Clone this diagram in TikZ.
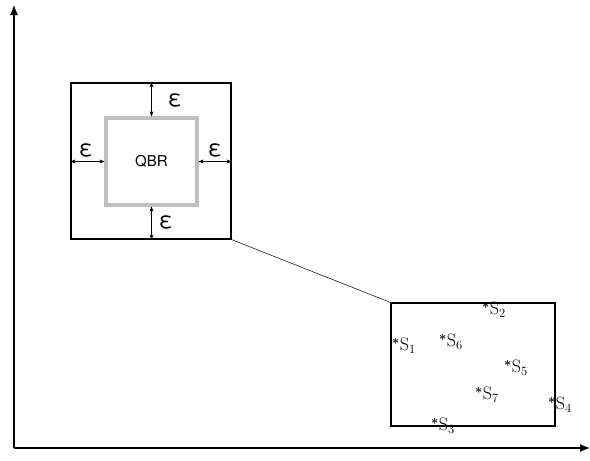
\documentclass[tikz,border=0pt]{standalone}
\usepackage{fontspec}
\usepackage{amsmath}
\usepackage{fix-cm}
\setsansfont{TeX Gyre Heros}
\usetikzlibrary{arrows.meta,positioning}

\begin{document}
\begin{tikzpicture}[x=1pt, y=-1pt,
  box/.style={draw, line width=1.2pt, inner sep=0pt},
  qbrbox/.style={draw=gray!50, line width=3.2pt, inner sep=0pt,
               font=\sffamily\fontsize{15}{15}\selectfont},
  epsarr/.style={{Stealth[length=5pt,width=4pt]}-{Stealth[length=5pt,width=4pt]}, line width=0.6pt},
  epslbl/.style={font=\sffamily\fontsize{23}{23}\selectfont, inner sep=0pt},
  axis/.style={-{Latex[length=10pt,width=8pt]}, line width=1.2pt},
  site/.style={font=\fontsize{18}{18}\selectfont, inner sep=0pt, anchor=west},
]
  \useasboundingbox (0,0) rectangle (590,461);

  % axes
  \coordinate (origin) at (14,448);
  \coordinate (ytip) at (14,5);
  \coordinate (xtip) at (590,448);
  \draw[axis] (origin) -- (ytip);
  \draw[axis] (origin) -- (xtip);

  % region around the QBR
  \node[box, minimum width=160pt, minimum height=156pt] (outer) at (151,161) {};
  \node[qbrbox, minimum width=91pt, minimum height=87pt] (qbr) at (151.5,161.5) {QBR};

  % epsilon margins
  \draw[epsarr] (qbr.north) -- (qbr.north |- outer.north);
  \draw[epsarr] (qbr.south) -- (qbr.south |- outer.south);
  \draw[epsarr] (qbr.west) -- (qbr.west -| outer.west);
  \draw[epsarr] (qbr.east) -- (qbr.east -| outer.east);
  \node[epslbl] (epsn) at (175,100) {ε};
  \node[epslbl] (epss) at (166,222) {ε};
  \node[epslbl] (epsw) at (86,150) {ε};
  \node[epslbl] (epse) at (215,150) {ε};

  % zoomed window with the sites
  \node[box, minimum width=164pt, minimum height=123pt] (win) at (473,364.5) {};
  \draw[line width=0.5pt] (outer.south east) -- (win.north west);

  \foreach \n/\x/\y in {1/392/346, 2/482/310, 3/431/426, 4/548/405,
                        5/504/368, 6/439/342, 7/475/395}
    \node[site] (s\n) at (\x,\y) {$^{\boldsymbol{\ast}}\mathrm{S}_{\n}$};

\end{tikzpicture}
\end{document}
